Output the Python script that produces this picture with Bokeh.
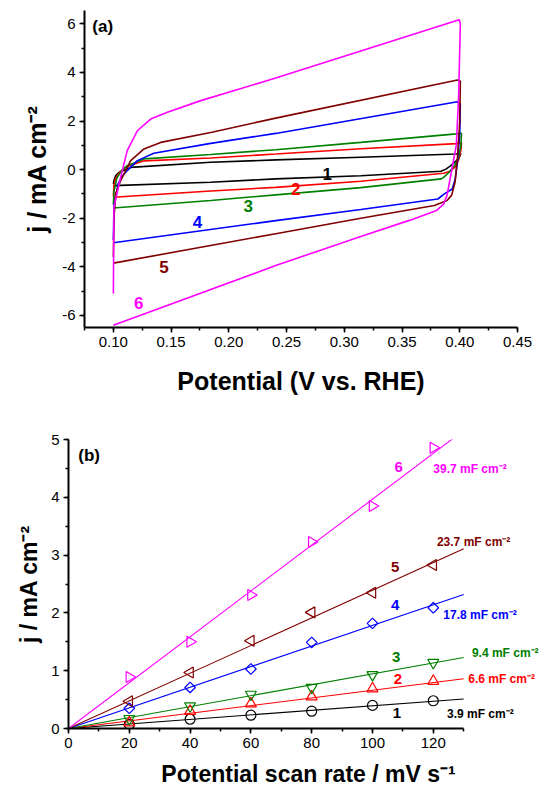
from bokeh.plotting import figure
from bokeh.layouts import column
from bokeh.models import SingleIntervalTicker, PrintfTickFormatter, Range1d, ColumnDataSource
from bokeh.embed import file_html
from bokeh.resources import INLINE
from bokeh.core.properties import value
import math

FONT = "Liberation Sans"

# ---------------- Panel (a): cyclic voltammograms ----------------
curve_names = ["1", "2", "3", "4", "5", "6"]
colors = ["#000000", "#FF0000", "#008000", "#0000FF", "#800000", "#FF00FF"]

cv1_v = [0.100, 0.1005, 0.102, 0.105, 0.115, 0.1843, 0.2406, 0.3143, 0.3966, 0.401,
         0.399, 0.395, 0.392, 0.388, 0.3838, 0.3143, 0.2406, 0.1843, 0.100]
cv1_j = [-0.60, -0.45, -0.25, -0.11, 0.09, 0.30, 0.40, 0.51, 0.64, 0.66,
         0.45, 0.28, 0.15, 0.02, -0.07, -0.25, -0.38, -0.52, -0.66]

cv2_v = [0.100, 0.1005, 0.102, 0.106, 0.112, 0.1265, 0.1843, 0.2406, 0.3143, 0.397, 0.4015,
         0.401, 0.399, 0.396, 0.391, 0.386, 0.3143, 0.2406, 0.1843, 0.100]
cv2_j = [-1.10, -0.65, -0.35, -0.08, 0.13, 0.36, 0.48, 0.64, 0.86, 1.07, 1.10,
         0.80, 0.40, 0.10, -0.08, -0.15, -0.48, -0.73, -0.88, -1.14]

cv3_v = [0.100, 0.1005, 0.103, 0.107, 0.112, 0.1265, 0.1843, 0.2406, 0.3143, 0.397, 0.4015,
         0.401, 0.399, 0.396, 0.391, 0.386, 0.384, 0.3143, 0.2406, 0.1843, 0.100]
cv3_j = [-1.45, -0.90, -0.35, -0.05, 0.16, 0.44, 0.62, 0.82, 1.12, 1.47, 1.50,
         1.00, 0.50, 0.20, -0.10, -0.32, -0.38, -0.74, -1.04, -1.27, -1.58]

cv4_v = [0.100, 0.1005, 0.104, 0.108, 0.112, 0.1208, 0.135, 0.1843, 0.2406, 0.398, 0.4005,
         0.400, 0.398, 0.396, 0.3935, 0.3866, 0.381, 0.3143, 0.2406, 0.100]
cv4_j = [-2.90, -1.50, -0.60, -0.25, -0.04, 0.37, 0.67, 1.08, 1.49, 2.79, 2.70,
         1.50, 0.30, -0.40, -0.80, -1.00, -1.21, -1.64, -2.10, -3.01]

cv5_v = [0.100, 0.1005, 0.102, 0.1063, 0.115, 0.1265, 0.141, 0.1843, 0.2406, 0.398, 0.4005,
         0.400, 0.398, 0.396, 0.393, 0.389, 0.378, 0.3143, 0.2406, 0.100]
cv5_j = [-3.60, -2.00, -1.00, -0.45, 0.37, 0.85, 1.12, 1.53, 2.12, 3.69, 3.65,
         2.00, 0.50, -0.50, -1.05, -1.27, -1.48, -2.00, -2.64, -3.85]

cv6_v = [0.100, 0.1003, 0.1005, 0.1063, 0.112, 0.1208, 0.1323, 0.1468, 0.1757, 0.2406, 0.3995, 0.4005,
         0.399, 0.397, 0.394, 0.389, 0.386, 0.380, 0.357, 0.3143, 0.2406, 0.100]
cv6_j = [-5.10, -3.00, -1.55, -0.32, 0.78, 1.60, 2.08, 2.36, 2.84, 3.77, 6.17, 6.00,
         3.00, 1.00, 0.23, -1.05, -1.42, -1.68, -2.08, -2.75, -3.95, -6.41]

cv_v = [cv1_v, cv2_v, cv3_v, cv4_v, cv5_v, cv6_v]
cv_j = [cv1_j, cv2_j, cv3_j, cv4_j, cv5_j, cv6_j]

label_a_x = [0.2853, 0.258, 0.2167, 0.1728, 0.1439, 0.122]
label_a_y = [-0.18, -0.79, -1.51, -2.17, -4.00, -5.48]

# ---------------- Panel (b): current vs scan rate ----------------
scan_rate = [20, 40, 60, 80, 100, 120]
j_s1 = [0.07, 0.16, 0.23, 0.30, 0.40, 0.48]
j_s2 = [0.10, 0.30, 0.43, 0.55, 0.69, 0.82]
j_s3 = [0.17, 0.39, 0.59, 0.71, 0.93, 1.14]
j_s4 = [0.35, 0.71, 1.03, 1.49, 1.82, 2.09]
j_s5 = [0.47, 0.97, 1.52, 2.01, 2.35, 2.83]
j_s6 = [0.89, 1.50, 2.31, 3.23, 3.85, 4.86]
j_series = [j_s1, j_s2, j_s3, j_s4, j_s5, j_s6]

fit_x = [0, 130]
fit_start = [0.0, 0.0, 0.0, 0.0, 0.0, 0.0]
fit_end = [0.51, 0.86, 1.23, 2.32, 3.11, 5.16]

cap_texts = ["3.9 mF cm\u207b\u00b2", "6.6 mF cm\u207b\u00b2", "9.4 mF cm\u207b\u00b2",
             "17.8 mF cm\u207b\u00b2", "23.7 mF cm\u207b\u00b2", "39.7 mF cm\u207b\u00b2"]
cap_x = [124.5, 131.5, 132.7, 123.3, 121.2, 120.0]
cap_y = [0.25, 0.865, 1.30, 1.96, 3.23, 4.50]
num_b_x = [108.0, 108.4, 107.8, 107.5, 107.5, 108.6]
num_b_y = [0.26, 0.865, 1.24, 2.13, 2.80, 4.53]

markers = ["circle", "triangle", "inverted_triangle", "square", "triangle", "triangle"]
marker_angles = [0.0, 0.0, 0.0, math.pi / 4, math.pi / 2, -math.pi / 2]
marker_sizes = [10, 11, 11, 7.5, 11, 11]


def style_axes(p, tick_px="15px", label_px="23px"):
    for ax in (p.xaxis[0], p.yaxis[0]):
        ax.axis_line_width = 2
        ax.axis_line_color = "black"
        ax.major_tick_line_width = 1.5
        ax.minor_tick_line_width = 1.5
        ax.major_tick_out = 5
        ax.major_tick_in = 0
        ax.minor_tick_out = 3
        ax.minor_tick_in = 0
        ax.major_label_text_font = FONT
        ax.major_label_text_font_size = tick_px
        ax.major_label_text_color = "black"
        ax.major_label_standoff = 4
        ax.axis_label_text_font = FONT
        ax.axis_label_text_font_size = label_px
        ax.axis_label_text_font_style = "bold"
        ax.axis_label_text_color = "black"
    p.grid.visible = False
    p.outline_line_color = None
    p.background_fill_color = "white"
    p.border_fill_color = "white"
    try:
        p.frame_align = False
    except Exception:
        pass


# ---- figure (a)
pa = figure(width=548, height=432, output_backend="svg", toolbar_location=None,
            x_range=Range1d(0.075, 0.45), y_range=Range1d(-6.5, 6.55),
            min_border_left=84, min_border_right=31, min_border_top=10, min_border_bottom=105)
for v, j, c in zip(cv_v, cv_j, colors):
    pa.line(v, j, line_color=c, line_width=1.6)
src_la = ColumnDataSource(dict(x=label_a_x, y=label_a_y, t=curve_names, c=colors))
pa.text(x="x", y="y", text="t", text_color="c", source=src_la, text_font=value(FONT),
        text_font_style="bold", text_font_size="17px", text_align="center", text_baseline="middle")
pa.text(x=[0.0818], y=[5.9], text=["(a)"], text_font=value(FONT), text_font_style="bold",
        text_font_size="17px", text_align="left", text_baseline="middle", text_color="black")
pa.xaxis[0].ticker = SingleIntervalTicker(interval=0.05, num_minor_ticks=2)
pa.yaxis[0].ticker = SingleIntervalTicker(interval=2, num_minor_ticks=2)
pa.xaxis[0].formatter = PrintfTickFormatter(format="%.2f")
pa.yaxis[0].formatter = PrintfTickFormatter(format="%d")
pa.xaxis[0].axis_label = "Potential (V vs. RHE)"
pa.yaxis[0].axis_label = "j / mA cm\u207b\u00b2"
style_axes(pa, "15px", "25px")
pa.xaxis[0].axis_label_standoff = 17
pa.yaxis[0].axis_label_standoff = 8

# ---- figure (b)
pb = figure(width=548, height=358, output_backend="svg", toolbar_location=None,
            x_range=Range1d(0, 157.9), y_range=Range1d(0, 5.003),
            min_border_left=68, min_border_right=0, min_border_top=7, min_border_bottom=62)
for js, fe, fs, c in zip(j_series, fit_end, fit_start, colors):
    pb.line(fit_x, [fs, fe], line_color=c, line_width=1.1)
for js, c, m, a, s in zip(j_series, colors, markers, marker_angles, marker_sizes):
    pb.scatter(scan_rate, js, marker=m, angle=a, size=s, line_color=c, fill_color=None, line_width=1.2)
src_num = ColumnDataSource(dict(x=num_b_x, y=num_b_y, t=curve_names, c=colors))
pb.text(x="x", y="y", text="t", text_color="c", source=src_num, text_font=value(FONT),
        text_font_style="bold", text_font_size="15px", text_align="center", text_baseline="middle")
src_cap = ColumnDataSource(dict(x=cap_x, y=cap_y, t=cap_texts, c=colors))
pb.text(x="x", y="y", text="t", text_color="c", source=src_cap, text_font=value(FONT),
        text_font_style="bold", text_font_size="12px", text_align="left", text_baseline="middle")
pb.text(x=[3.2], y=[4.73], text=["(b)"], text_font=value(FONT), text_font_style="bold",
        text_font_size="17px", text_align="left", text_baseline="middle", text_color="black")
pb.xaxis[0].ticker = SingleIntervalTicker(interval=20, num_minor_ticks=2)
pb.yaxis[0].ticker = SingleIntervalTicker(interval=1, num_minor_ticks=2)
pb.xaxis[0].formatter = PrintfTickFormatter(format="%d")
pb.yaxis[0].formatter = PrintfTickFormatter(format="%d")
pb.xaxis[0].bounds = (0, 130)
pb.xaxis[0].axis_label = "Potential scan rate / mV s\u207b\u00b9"
pb.yaxis[0].axis_label = "j / mA cm\u207b\u00b2"
style_axes(pb, "15px", "23px")
pb.xaxis[0].axis_label_standoff = 10
pb.yaxis[0].axis_label_standoff = 6

layout = column(pa, pb, spacing=0)
open("out.html", "w").write(file_html(layout, INLINE))
